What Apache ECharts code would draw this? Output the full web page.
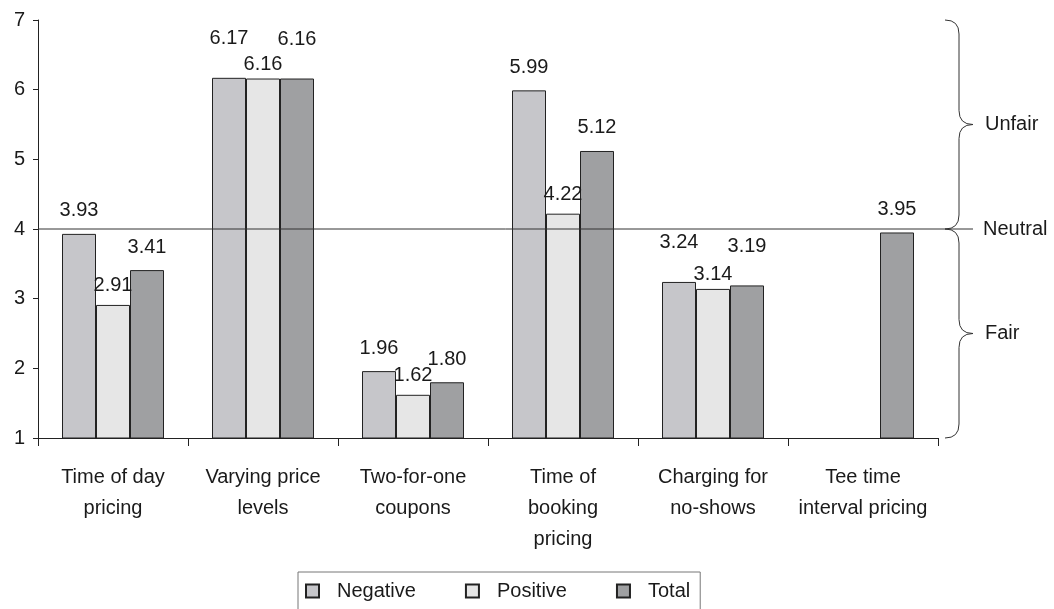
<!DOCTYPE html>
<html><head><meta charset="utf-8">
<script src="https://cdn.jsdelivr.net/npm/echarts@6/dist/echarts.min.js"></script>
<style>html,body{margin:0;padding:0;background:#fff}#c{width:1054px;height:609px}</style>
</head><body><div id="c"></div>
<script>
// ---- data ----
const categories = ['Time of day\npricing', 'Varying price\nlevels', 'Two-for-one\ncoupons', 'Time of\nbooking\npricing', 'Charging for\nno-shows', 'Tee time\ninterval pricing'];
const negative = [3.93, 6.17, 1.96, 5.99, 3.24, null];
const positive = [2.91, 6.16, 1.62, 4.22, 3.14, null];
const total = [3.41, 6.16, 1.80, 5.12, 3.19, 3.95];
const seriesNames = ['Negative', 'Positive', 'Total'];
const yMin = 1, yMax = 7, yInterval = 1;
const neutralValue = 4;
const neutralLabel = 'Neutral';
const zones = [{ label: 'Unfair', from: 7, to: 4 }, { label: 'Fair', from: 4, to: 1 }];

// ---- chart ----
const FONT = '"Liberation Sans", Arial, sans-serif';
const FS = 20;
const TXT = '#1a1a1a';
const GRID = { left: 38, right: 116, top: 20, bottom: 171 };
const W = 1054;
const chart = echarts.init(document.getElementById('c'), null, { renderer: 'canvas' });

// stagger labels when a group's three values are nearly equal (collision avoidance)
function crowded(i) {
  return positive[i] != null && negative[i] != null && Math.abs(negative[i] - positive[i]) < 0.15;
}
function barSeries(name, data, color, middle) {
  return {
    name, type: 'bar', data, barGap: '0%', barCategoryGap: '32%',
    itemStyle: { color, borderColor: '#222', borderWidth: 1 },
    label: {
      show: true, position: 'top', distance: middle ? 9 : 13,
      formatter: p => (p.value == null ? '' : Number(p.value).toFixed(2)),
      fontFamily: FONT, fontSize: FS, color: TXT
    },
    labelLayout: p => (crowded(p.dataIndex) ? { dy: middle ? 5 : -16 } : {}),
    emphasis: { disabled: true }
  };
}

chart.setOption({
  animation: false,
  grid: GRID,
  legend: {
    data: seriesNames,
    left: 298, top: 572,
    orient: 'horizontal',
    icon: 'rect', itemWidth: 13, itemHeight: 13, itemGap: 49,
    padding: [9, 10, 12, 7],
    borderColor: '#777', borderWidth: 1,
    textStyle: { fontFamily: FONT, fontSize: FS, color: TXT, padding: [0, 0, 0, 13] },
    selectedMode: false
  },
  xAxis: {
    type: 'category', data: categories,
    axisLine: { lineStyle: { color: '#222', width: 1 } },
    axisTick: { show: true, length: 8, alignWithLabel: false, lineStyle: { color: '#222' } },
    axisLabel: { interval: 0, fontFamily: FONT, fontSize: FS, color: TXT, lineHeight: 31, margin: 24 }
  },
  yAxis: {
    type: 'value', min: yMin, max: yMax, interval: yInterval,
    splitLine: { show: false },
    axisLine: { show: true, lineStyle: { color: '#222', width: 1 } },
    axisTick: { show: true, length: 5, lineStyle: { color: '#222' } },
    axisLabel: { fontFamily: FONT, fontSize: FS, color: TXT, margin: 13 }
  },
  series: [
    barSeries(seriesNames[0], negative, '#c6c6ca', false),
    barSeries(seriesNames[1], positive, '#e6e6e6', true),
    barSeries(seriesNames[2], total, '#9fa0a2', false)
  ]
});

// ---- annotations (neutral line, braces) positioned via the value axis ----
const yPx = v => chart.convertToPixel({ yAxisIndex: 0 }, v);
const gridRight = W - GRID.right;
const yNeutral = yPx(neutralValue);
const braceX = gridRight + 7, r = 14;
const stroke = { stroke: '#333', lineWidth: 1, fill: null };
const graphics = [];
function seg(x1, y1, x2, y2) { graphics.push({ type: 'line', z: 100, shape: { x1, y1, x2, y2 }, style: stroke }); }
function curve(x1, y1, cpx1, cpy1, x2, y2) { graphics.push({ type: 'bezierCurve', z: 100, shape: { x1, y1, cpx1, cpy1, x2, y2 }, style: stroke }); }
function label(text, x, y) {
  graphics.push({ type: 'text', z: 100, x, y, style: { text, fontFamily: FONT, fontSize: FS, fill: TXT, verticalAlign: 'middle', textVerticalAlign: 'middle' } });
}
seg(GRID.left, yNeutral, braceX + 2 * r, yNeutral);
label(neutralLabel, braceX + 2 * r + 10, yNeutral);
zones.forEach(z => {
  const y0 = yPx(z.from), y1 = yPx(z.to), ym = (y0 + y1) / 2, x = braceX;
  curve(x, y0, x + r, y0, x + r, y0 + r);
  seg(x + r, y0 + r, x + r, ym - r);
  curve(x + r, ym - r, x + r, ym, x + 2 * r, ym);
  curve(x + 2 * r, ym, x + r, ym, x + r, ym + r);
  seg(x + r, ym + r, x + r, y1 - r);
  curve(x + r, y1 - r, x + r, y1, x, y1);
  label(z.label, x + 2 * r + 12, ym);
});
chart.setOption({ graphic: graphics });
</script>
</body></html>
